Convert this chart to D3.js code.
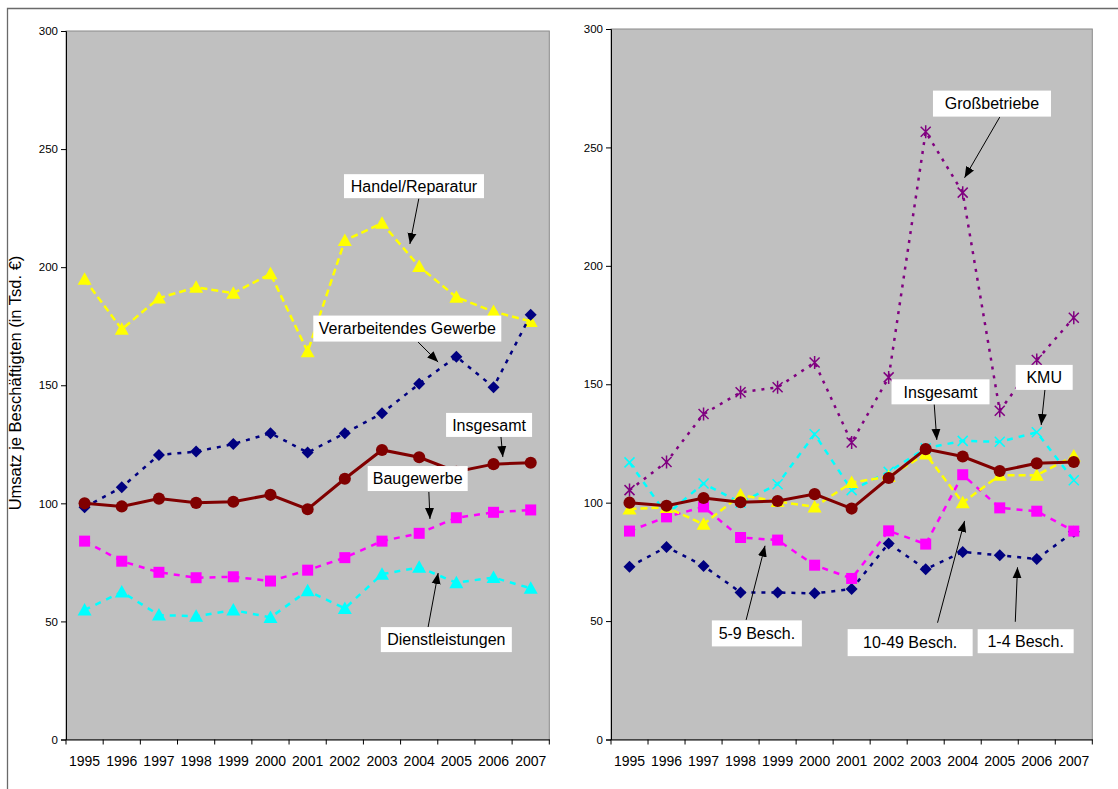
<!DOCTYPE html>
<html><head><meta charset="utf-8">
<script src="https://cdn.jsdelivr.net/npm/d3@7"></script>
<style>
body{margin:0;background:#fff}
svg text{font-family:"Liberation Sans",Arial,sans-serif}
</style>
</head><body>
<svg id="c" width="1118" height="789"></svg>
<script>
// ---------- DATA ----------
const years = ["1995","1996","1997","1998","1999","2000","2001","2002","2003","2004","2005","2006","2007"];
const yTicks = [0,50,100,150,200,250,300];
const yTitle = "Umsatz je Beschäftigten (in Tsd. €)";

// Insgesamt (both panels)
const insgesamt = [100,98.7,102,100.2,100.7,103.6,97.5,110.4,122.6,119.5,113.4,116.6,117.2];
// left panel: branches
const handel = [194.9,173.7,186.9,191.5,189,197.2,164.2,211.3,218.6,200.3,187.3,181.2,177];
const verarbeitend = [98.3,106.8,120.5,121.9,125.1,129.7,121.5,129.7,138.1,150.6,162.1,149.2,179.8];
const baugewerbe = [84,75.5,70.8,68.5,68.9,67.1,71.7,77,84,87.3,93.9,96.2,97.2];
const dienstleistungen = [54.8,62.5,52.7,52.2,54.8,51.7,63,55.5,70,72.9,66.4,68.6,64];
// right panel: size classes
const grossbetriebe = [105.3,117.2,137.4,146.6,148.7,159.2,125.4,152.9,256.6,230.9,138.8,160.2,178.1];
const kmu = [117,95,108.1,100,107.8,128.9,105.3,113,123,126.1,125.7,129.7,109.5];
const besch1_4 = [72.9,81.3,73.3,62.1,62.1,61.7,63.5,82.8,71.9,79.2,77.8,76.2,87.7];
const besch5_9 = [88,94,98.2,85.3,84.2,73.6,68,88.1,82.5,111.8,97.8,96.4,88];
const besch10_49 = [97.3,98,90.9,103.2,100.5,98.2,108.5,111,120.5,100,111.6,111.6,119.7];

// annotation texts
const leftLabels = ["Handel/Reparatur","Verarbeitendes Gewerbe","Insgesamt","Baugewerbe","Dienstleistungen"];
const rightLabels = ["Großbetriebe","KMU","Insgesamt","5-9 Besch.","10-49 Besch.","1-4 Besch."];

// ---------- LAYOUT ----------
const svg = d3.select("#c");
const fontAxisY = 11.5, fontAxisX = 14, fontLab = 16;

// outer frame (top and left edges)
svg.append("path").attr("d","M7.5,789 L7.5,8.5 L1118,8.5")
  .attr("fill","none").attr("stroke","#6a6a6a").attr("stroke-width",1.3);

// y-axis title
svg.append("text").attr("transform","translate(21,383) rotate(-90)")
  .attr("text-anchor","middle").attr("font-size",16.5).attr("fill","#000").text(yTitle);

const defs = svg.append("defs");
defs.append("marker").attr("id","ah").attr("markerUnits","userSpaceOnUse")
  .attr("markerWidth",12).attr("markerHeight",10).attr("refX",11).attr("refY",5)
  .attr("orient","auto")
  .append("path").attr("d","M0,0.5 L11,5 L0,9.5 Z").attr("fill","#000");

function panel(cfg){
  const g = svg.append("g");
  const x = d3.scaleBand().domain(years).range([cfg.x0,cfg.x1]).padding(0);
  const y = d3.scaleLinear().domain([0,300]).range([cfg.yb,cfg.yt]);
  const bw = x.bandwidth();
  const cx = i => x(years[i]) + bw/2;
  const fx = f => cfg.x0 + f*bw; // fractional category position

  g.append("rect").attr("x",cfg.x0).attr("y",cfg.yt).attr("width",cfg.x1-cfg.x0).attr("height",cfg.yb-cfg.yt)
    .attr("fill","#c0c0c0").attr("stroke","#8a8a8a").attr("stroke-width",1);

  // y axis
  const ya = g.append("g").attr("transform",`translate(${cfg.x0},0)`)
    .call(d3.axisLeft(y).tickValues(yTicks).tickSize(5).tickPadding(3).tickFormat(d3.format("d")));
  ya.selectAll("text").attr("font-size",fontAxisY).attr("fill","#000").style("font-family","Liberation Sans, Arial");
  ya.selectAll("line,path").attr("stroke","#000");

  // x axis
  const xa = g.append("g").attr("transform",`translate(0,${cfg.yb})`)
    .call(d3.axisBottom(x).tickSize(0).tickPadding(16.5));
  xa.selectAll("text").attr("font-size",fontAxisX).attr("fill","#000").style("font-family","Liberation Sans, Arial");
  xa.select("path").attr("stroke","#000");
  const bounds = years.map(d=>x(d)).concat([cfg.x1]);
  g.selectAll(".bt").data(bounds).join("line")
    .attr("x1",d=>d).attr("x2",d=>d).attr("y1",cfg.yb).attr("y2",cfg.yb+5).attr("stroke","#000");

  const line = d3.line().x((d,i)=>cx(i)).y(d=>y(d));

  cfg.series.forEach(s=>{
    const sg = g.append("g");
    sg.append("path").datum(s.values).attr("d",line).attr("fill","none")
      .attr("stroke",s.color).attr("stroke-width",s.width||2.5)
      .attr("stroke-dasharray",s.dash||null);
    const m = sg.selectAll(".m").data(s.values).join("path")
      .attr("transform",(d,i)=>`translate(${cx(i)},${y(d)})`);
    if(s.marker==="diamond") m.attr("d","M0,-6 L6,0 L0,6 L-6,0 Z").attr("fill",s.color);
    else if(s.marker==="square") m.attr("d","M-5.5,-5.5 L5.5,-5.5 L5.5,5.5 L-5.5,5.5 Z").attr("fill",s.color);
    else if(s.marker==="triangle") m.attr("d","M0,-7 L7,5.5 L-7,5.5 Z").attr("fill",s.color);
    else if(s.marker==="circle") m.attr("d",d3.symbol(d3.symbolCircle,115)()).attr("fill",s.color);
    else if(s.marker==="x") m.attr("d","M-5,-5 L5,5 M-5,5 L5,-5").attr("fill","none").attr("stroke",s.color).attr("stroke-width",1.5);
    else if(s.marker==="star") m.attr("d","M-5,-5 L5,5 M-5,5 L5,-5 M0,-6.5 L0,6.5").attr("fill","none").attr("stroke",s.color).attr("stroke-width",1.5);
  });

  // annotations
  cfg.labels.forEach(a=>{
    const ag = g.append("g");
    ag.append("line").attr("x1",fx(a.from[0])).attr("y1",y(a.from[1]))
      .attr("x2",fx(a.tip[0])).attr("y2",y(a.tip[1]))
      .attr("stroke","#000").attr("stroke-width",1).attr("marker-end","url(#ah)");
    const bx = fx(a.c[0]), by = y(a.c[1]);
    ag.append("rect").attr("x",bx-a.w/2).attr("y",by-a.h/2).attr("width",a.w).attr("height",a.h).attr("fill","#fff");
    ag.append("text").attr("x",bx).attr("y",by).attr("dy","0.36em").attr("text-anchor","middle")
      .attr("font-size",fontLab).attr("fill","#000").text(a.text);
  });
}

panel({
  x0:66, x1:549.3, yt:31, yb:739.5,
  series:[
    {values:handel,color:"#ffff00",marker:"triangle",dash:"7,4"},
    {values:verarbeitend,color:"#000080",marker:"diamond",dash:"4,6"},
    {values:baugewerbe,color:"#ff00ff",marker:"square",dash:"6,6"},
    {values:dienstleistungen,color:"#00ffff",marker:"triangle",dash:"6,6"},
    {values:insgesamt,color:"#800000",marker:"circle",width:3}
  ],
  labels:[
    {text:leftLabels[0],c:[9.36,234.3],w:140,h:24,from:[9.49,229],tip:[9.25,209.8]},
    {text:leftLabels[1],c:[9.18,174.0],w:188,h:26,from:[9.47,168.3],tip:[10.01,159.8]},
    {text:leftLabels[2],c:[11.38,133.2],w:86,h:24,from:[11.70,128.1],tip:[11.75,119.6]},
    {text:leftLabels[3],c:[9.46,110.5],w:100,h:25,from:[9.76,104.8],tip:[9.79,93.4]},
    {text:leftLabels[4],c:[10.23,42.3],w:131,h:25,from:[9.74,47.6],tip:[10.01,70.5]}
  ]
});

panel({
  x0:611, x1:1092.3, yt:29, yb:739.5,
  series:[
    {values:kmu,color:"#00ffff",marker:"x",dash:"6,6"},
    {values:grossbetriebe,color:"#800080",marker:"star",dash:"3,6"},
    {values:besch1_4,color:"#000080",marker:"diamond",dash:"4,6"},
    {values:besch5_9,color:"#ff00ff",marker:"square",dash:"6,6"},
    {values:besch10_49,color:"#ffff00",marker:"triangle",dash:"7,4"},
    {values:insgesamt,color:"#800000",marker:"circle",width:3}
  ],
  labels:[
    {text:rightLabels[0],c:[10.29,268.5],w:118,h:26,from:[10.50,262.8],tip:[9.55,237.2]},
    {text:rightLabels[1],c:[11.70,152.9],w:57,h:25,from:[11.72,147.6],tip:[11.62,132.8]},
    {text:rightLabels[2],c:[8.90,146.8],w:98,h:25,from:[8.73,141.5],tip:[8.80,126.5]},
    {text:rightLabels[3],c:[3.94,44.8],w:90,h:26,from:[3.65,50.5],tip:[4.16,81.8]},
    {text:rightLabels[4],c:[8.08,40.9],w:125,h:27,from:[8.82,49.3],tip:[9.55,92.3]},
    {text:rightLabels[5],c:[11.20,41.5],w:96,h:24,from:[10.92,49.7],tip:[10.98,72.7]}
  ]
});
</script>
</body></html>
